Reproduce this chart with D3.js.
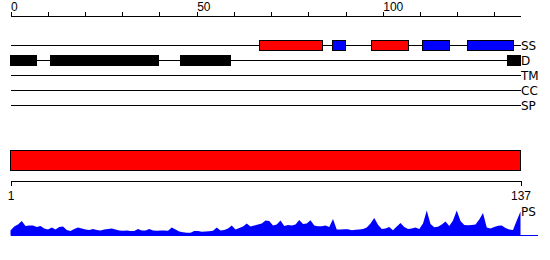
<!DOCTYPE html>
<html>
<head>
<meta charset="utf-8">
<script src="https://cdn.jsdelivr.net/npm/d3@7"></script>
<style>
  body { margin: 0; background: #fff; }
  svg { display: block; font-family: "DejaVu Sans", sans-serif; }
  .axis path, .axis line { stroke: #000; shape-rendering: crispEdges; }
  .axis text { font-size: 12px; fill: #000; }
  .track { stroke: #000; shape-rendering: crispEdges; }
  .lbl { font-size: 12px; fill: #000; }
</style>
</head>
<body>
<svg id="chart" width="550" height="260"></svg>
<script>
// sequence length and track names
var seqLength = 137;
var tracks = ["SS", "D", "TM", "CC", "SP"];

// secondary structure (SS) segments, [start, end] in residues
var helices = [[66.8, 83.9], [96.9, 106.9]];
var strands = [[86.5, 90.1], [110.6, 117.9], [122.7, 135]];
// disorder (D) segments
var disorder = [[0, 7], [10.7, 39.8], [45.8, 59], [133.6, 137]];

// top ruler ticks
var rulerTicks = d3.range(0, 131, 10);
var rulerLabels = [0, 50, 100];
var bottomTicks = [1, 137];

// PS profile, one value per residue
var psScore = [5, 9, 11, 14.5, 9.5, 10, 10, 8.5, 9.5, 7,
  6, 8, 6, 8.5, 9, 5.5, 4.5, 6.5, 8, 7,
  6, 5.5, 6.5, 5.5, 5, 6, 6.5, 7, 6, 5,
  4.8, 5, 4.5, 4.5, 6.5, 5, 5, 6.5, 5, 4.8,
  5, 5, 4.8, 8, 6, 4, 3.2, 2.8, 2.7, 4.5,
  4.5, 3.7, 4, 4.3, 4.7, 8, 5, 5.5, 7, 10,
  6, 7.5, 9, 12, 9, 10, 11, 12, 15, 14.5,
  10, 11, 15, 9.5, 10.5, 10, 11, 15.5, 11.5, 12,
  15.3, 10, 9.3, 9.3, 10, 8.5, 16.5, 6, 6, 6.3,
  6.3, 5.3, 5.8, 6, 6.5, 8, 12, 17.5, 10.7, 6.5,
  7, 8.5, 5.3, 9, 12.5, 8.5, 6.5, 7, 8, 6.5,
  12, 25, 11.5, 8.3, 8.8, 11, 14, 9.5, 15, 25,
  14.5, 10.5, 10.3, 10.5, 11, 16, 22.5, 8, 7, 8.5,
  9.7, 10, 7.5, 6, 5.5, 15, 24];

var svg = d3.select("#chart");

var x = d3.scaleLinear().domain([0, seqLength]).range([10.5, 520.5]);
var xRes = d3.scaleLinear().domain([1, seqLength]).range([10.5, 520.5]);
var trackY = d3.scalePoint().domain(tracks).range([45.5, 105.5]);

// ruler
var topAxis = d3.axisTop(x)
  .tickValues(rulerTicks)
  .tickSize(4)
  .tickSizeOuter(0)
  .tickFormat(function(d) { return rulerLabels.indexOf(d) >= 0 ? d : ""; });

var gTop = svg.append("g")
  .attr("class", "axis")
  .attr("transform", "translate(0,15.5)")
  .call(topAxis);
gTop.selectAll("text")
  .attr("text-anchor", "start")
  .attr("y", -5)
  .attr("dy", 0);

// track lines + names
tracks.forEach(function(t) {
  svg.append("line")
    .attr("class", "track")
    .attr("x1", x(0)).attr("x2", x(seqLength))
    .attr("y1", trackY(t)).attr("y2", trackY(t));
  svg.append("text")
    .attr("class", "lbl")
    .attr("x", x(seqLength) + 0.5)
    .attr("y", trackY(t) + 4.5)
    .text(t);
});

function drawSegments(list, track, fill) {
  svg.append("g").selectAll("rect")
    .data(list)
    .join("rect")
    .attr("x", function(d) { return x(d[0]); })
    .attr("width", function(d) { return x(d[1]) - x(d[0]); })
    .attr("y", trackY(track) - 5)
    .attr("height", 10)
    .attr("fill", fill)
    .attr("stroke", "#000")
    .attr("stroke-width", 1)
    .attr("shape-rendering", "crispEdges");
}
drawSegments(helices, "SS", "#ff0000");
drawSegments(strands, "SS", "#0000ff");
drawSegments(disorder, "D", "#000");

// whole-sequence bar
svg.append("rect")
  .attr("x", x(0))
  .attr("y", 150.5)
  .attr("width", x(seqLength) - x(0))
  .attr("height", 20)
  .attr("fill", "#ff0000")
  .attr("stroke", "#000")
  .attr("shape-rendering", "crispEdges");

var bottomAxis = d3.axisBottom(xRes)
  .tickValues(bottomTicks)
  .tickSize(5)
  .tickSizeOuter(0)
  .tickPadding(6);
svg.append("g")
  .attr("class", "axis")
  .attr("transform", "translate(0,180.5)")
  .call(bottomAxis);

// PS profile
var base = 235.5;
var yPs = d3.scaleLinear().domain([0, 25]).range([base, base - 25]);

var area = d3.area()
  .x(function(d, i) { return xRes(i + 1); })
  .y0(base)
  .y1(function(d) { return yPs(d); });

svg.append("path")
  .datum(psScore)
  .attr("d", area)
  .attr("fill", "#0000ff");

svg.append("line")
  .attr("x1", x(0)).attr("x2", 538)
  .attr("y1", base).attr("y2", base)
  .attr("stroke", "#0000ff")
  .attr("shape-rendering", "crispEdges");

svg.append("text")
  .attr("class", "lbl")
  .attr("x", x(seqLength) + 0.5)
  .attr("y", 216)
  .text("PS");
</script>
</body>
</html>
